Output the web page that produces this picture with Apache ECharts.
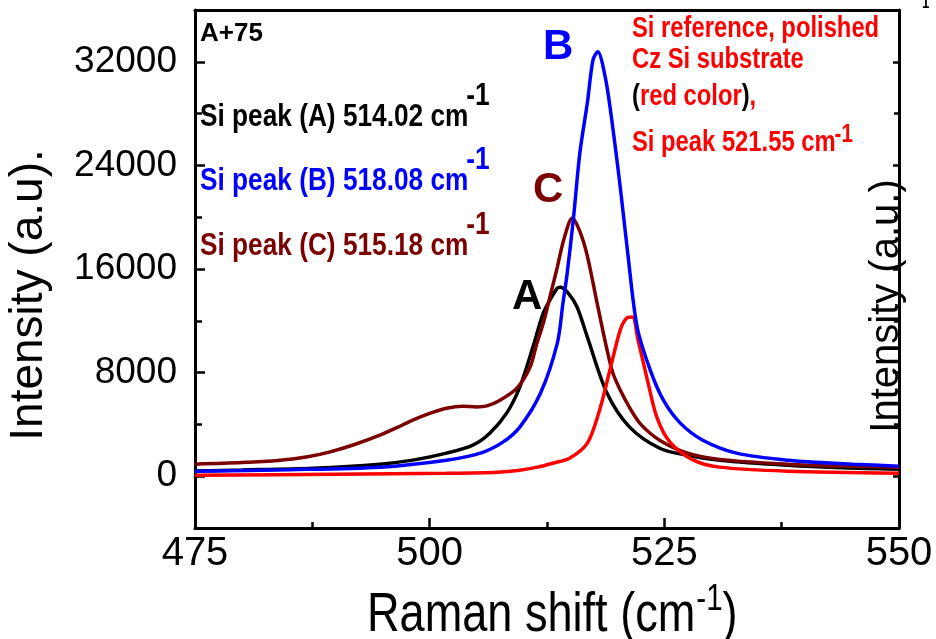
<!DOCTYPE html>
<html>
<head>
<meta charset="utf-8">
<script src="https://cdn.jsdelivr.net/npm/echarts@6/dist/echarts.min.js"></script>
<style>
html,body{margin:0;padding:0;background:#fff;}
#chart{width:936px;height:639px;}
</style>
</head>
<body>
<div id="chart"></div>
<script>
// ---- data ----
const xTicks = [475, 500, 525, 550];
const yTickLabels = [0, 8000, 16000, 24000, 32000];
const yMinorTicks = [4000, 12000, 20000, 28000];

const shiftA = [475, 480, 487.6, 494.7, 498.2, 501.8, 504.6, 506.4, 508.2, 509.6, 511, 512.1, 513, 513.6, 513.9, 514.7, 515.7, 516.8, 518.9, 521.3, 524.5, 527.4, 530.9, 538.1, 544, 550];
const intensityA = [410, 480, 620, 930, 1240, 1780, 2400, 3320, 4870, 6880, 9970, 12600, 13840, 14530, 14600, 14200, 13060, 10740, 6400, 3790, 2160, 1620, 1240, 850, 650, 540];

const shiftB = [475, 485, 494.7, 501.8, 505.4, 507.8, 509.6, 511.8, 513.6, 514.2, 514.6, 515.3, 516, 516.8, 517.4, 517.9, 518.7, 519.4, 520.3, 521.1, 522.1, 523.5, 524.9, 526.7, 529.1, 532.7, 538.1, 545.1, 550];
const intensityB = [390, 500, 700, 1240, 1780, 2630, 3790, 6400, 10280, 13370, 15380, 19790, 24960, 28830, 32150, 32770, 30840, 27520, 22340, 17240, 11520, 8190, 5870, 4100, 2780, 1780, 1240, 930, 770];

const shiftC = [475, 480, 484.1, 487, 489.4, 492, 494.7, 496.5, 498.2, 500, 501.8, 503.5, 505, 506.1, 507.5, 509.3, 510.7, 511.4, 512.1, 512.8, 513.6, 514.3, 515.2, 516, 516.8, 517.8, 518.7, 519.5, 520.3, 521.3, 522.5, 524.5, 527.4, 530.9, 538.1, 544, 550];
const intensityC = [930, 1050, 1237, 1500, 1880, 2450, 3170, 3750, 4330, 4850, 5250, 5410, 5350, 5430, 5870, 6800, 8430, 10200, 11800, 13800, 16150, 18300, 19940, 18900, 17000, 13500, 10400, 8000, 6650, 5300, 4000, 2780, 1800, 1300, 930, 780, 700];

const shiftRef = [475, 490, 501.8, 507.2, 509.6, 511.5, 513.1, 514.9, 516.8, 518.1, 519.2, 520.3, 521, 521.6, 522.2, 523.2, 524.2, 525.6, 528.1, 530.9, 538.1, 550];
const intensityRef = [77, 150, 230, 310, 460, 700, 1000, 1390, 2550, 5100, 8190, 11280, 12210, 12290, 10510, 7420, 4560, 2630, 1240, 700, 390, 230];

const seriesNames = ['A', 'C', 'Reference', 'B'];
const seriesColors = ['#000000', '#7b0000', '#ff0000', '#0000ff'];

// ---- chart ----
const zip = (xs, ys) => xs.map((x, i) => [x, ys[i]]);
const chart = echarts.init(document.getElementById('chart'), null, {renderer: 'canvas'});

const REG = '"Liberation Sans", Arial, sans-serif';
const NS = 0.82; // horizontal condensing of the narrow-looking texts

const measure = (() => {
  const c = document.createElement('canvas').getContext('2d');
  return (txt, font) => { c.font = font; return c.measureText(txt).width; };
})();

const lineSeries = (name, xs, ys, color) => ({
  name, type: 'line', data: zip(xs, ys), showSymbol: false, smooth: 0.3,
  lineStyle: {color, width: 3.5}, itemStyle: {color}, xAxisIndex: 0, yAxisIndex: 0,
  animation: false, z: 3
});

const yBase = {
  type: 'value', min: -4000, max: 36000, interval: 4000,
  splitLine: {show: false}
};

// text positions
const annFont = 'bold 32px ' + REG;
const redFont = 'bold 29px ' + REG;
const g = [];
const txt = (x, y, text, font, fill, sx) => ({
  type: 'text', x, y, z: 10, scaleX: sx || 1,
  style: {text, font, fill, verticalAlign: 'middle', align: 'left'}
});

g.push(txt(200, 34, 'A+75', 'bold 26px ' + REG, '#000'));
const annLines = [
  ['Si peak (A) 514.02 cm', '#000', 117],
  ['Si peak (B) 518.08 cm', '#0000ff', 181],
  ['Si peak (C) 515.18 cm', '#7b0000', 246]
];
annLines.forEach(([t, c, y]) => {
  g.push(txt(200, y, t, annFont, c, NS));
  g.push(txt(200 + measure(t, annFont) * NS - 2, y - 21, '-1', annFont, c, NS));
});
g.push(txt(632, 29, 'Si reference, polished', redFont, '#ff0000', NS));
g.push(txt(632, 60, 'Cz Si substrate', redFont, '#ff0000', NS));
g.push({type: 'text', x: 632, y: 97, z: 10, scaleX: NS, style: {
  text: '{k|(}{r|red color}{k|)}{r|,}', verticalAlign: 'middle', align: 'left',
  font: redFont,
  rich: {k: {fill: '#000', font: redFont}, r: {fill: '#ff0000', font: redFont}}
}});
const refPeak = 'Si peak 521.55 cm';
g.push(txt(632, 143, refPeak, redFont, '#ff0000', NS));
g.push(txt(632 + measure(refPeak, redFont) * NS - 1, 135, '-1', 'bold 25px ' + REG, '#ff0000', NS));

g.push(txt(543, 47, 'B', 'bold 42px ' + REG, '#0000ff'));
g.push(txt(533, 190, 'C', 'bold 42px ' + REG, '#7b0000'));
g.push(txt(512, 297, 'A', 'bold 42px ' + REG, '#000'));

// axis titles
const xtFont = '55px ' + REG;
const xtMain = 'Raman shift (cm';
const xtW = measure(xtMain, xtFont) * NS;
const supFont = '36px ' + REG;
g.push(txt(367, 616, xtMain, xtFont, '#000', NS));
g.push(txt(367 + xtW + 1, 600, '-1', supFont, '#000', NS));
g.push(txt(367 + xtW + 1 + measure('-1', supFont) * NS, 616, ')', xtFont, '#000', NS));

g.push({type: 'text', x: 29, y: 295, rotation: Math.PI / 2, z: 10,
  style: {text: 'Intensity (a.u).', font: '46px ' + REG, fill: '#000', align: 'center', verticalAlign: 'middle'}});
g.push({type: 'text', x: 887, y: 306, rotation: Math.PI / 2, z: 10,
  style: {text: 'Intensity (a.u.)', font: '40px ' + REG, fill: '#000', align: 'center', verticalAlign: 'middle'}});
g.push(txt(922, 4, '1', 'bold 16px ' + REG, '#000', NS));

const option = {
  animation: false,
  backgroundColor: '#fff',
  grid: {left: 195, right: 37, top: 10, bottom: 111, containLabel: false},
  xAxis: [
    {
      type: 'value', position: 'bottom', min: 475, max: 550, interval: 25,
      axisLine: {show: true, onZero: false, lineStyle: {color: '#000', width: 3}},
      axisTick: {show: true, inside: true, length: 10, lineStyle: {color: '#000', width: 2.5}},
      minorTick: {show: true, splitNumber: 2, length: 6, lineStyle: {color: '#000', width: 2.5}},
      axisLabel: {show: true, fontSize: 40, fontFamily: REG, color: '#000', margin: 6,
        customValues: xTicks, formatter: v => String(v)},
      splitLine: {show: false}, minorSplitLine: {show: false}
    },
    {
      type: 'value', position: 'top', min: 475, max: 550, interval: 25,
      axisLine: {show: true, onZero: false, lineStyle: {color: '#000', width: 3}},
      axisTick: {show: false}, axisLabel: {show: false}, splitLine: {show: false}
    }
  ],
  yAxis: [
    Object.assign({}, yBase, {
      position: 'left',
      axisLine: {show: true, onZero: false, lineStyle: {color: '#000', width: 3}},
      axisTick: {show: true, inside: true, length: 10, customValues: yTickLabels, lineStyle: {color: '#000', width: 2.5}},
      axisLabel: {show: true, fontSize: 37, fontFamily: REG, color: '#000', margin: 18,
        customValues: yTickLabels, padding: [0, 0, 10, 0], formatter: v => String(v)}
    }),
    Object.assign({}, yBase, {
      position: 'left',
      axisLine: {show: false},
      axisTick: {show: true, inside: true, length: 7, customValues: yMinorTicks, lineStyle: {color: '#000', width: 2.5}},
      axisLabel: {show: false}
    }),
    Object.assign({}, yBase, {
      position: 'right',
      axisLine: {show: true, onZero: false, lineStyle: {color: '#000', width: 3}},
      axisTick: {show: true, inside: true, length: 6, customValues: yTickLabels, lineStyle: {color: '#000', width: 2.5}},
      axisLabel: {show: false}
    }),
    Object.assign({}, yBase, {
      position: 'right',
      axisLine: {show: false},
      axisTick: {show: true, inside: true, length: 5, customValues: yMinorTicks, lineStyle: {color: '#000', width: 2.5}},
      axisLabel: {show: false}
    })
  ],
  series: [
    lineSeries(seriesNames[0], shiftA, intensityA, seriesColors[0]),
    lineSeries(seriesNames[1], shiftC, intensityC, seriesColors[1]),
    lineSeries(seriesNames[2], shiftRef, intensityRef, seriesColors[2]),
    lineSeries(seriesNames[3], shiftB, intensityB, seriesColors[3])
  ],
  graphic: g
};
chart.setOption(option);
</script>
</body>
</html>
